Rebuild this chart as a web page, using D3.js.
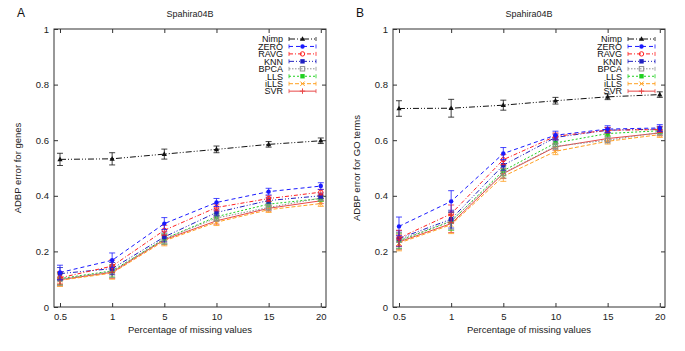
<!DOCTYPE html>
<html>
<head>
<meta charset="utf-8">
<script src="https://cdn.jsdelivr.net/npm/d3@7"></script>
<style>
  body { margin: 0; background: #fff; }
  svg { font-family: "Liberation Sans", Arial, sans-serif; }
  .tick text { font-size: 9.5px; fill: #222; }
</style>
</head>
<body>
<div class="container"></div>
<script>
// categories along x (percentage of missing values)
const categories = ['0.5', '1', '5', '10', '15', '20'];
const yTicks = [0, 0.2, 0.4, 0.6, 0.8, 1];
const methods = ['Nimp', 'ZERO', 'RAVG', 'KNN', 'BPCA', 'LLS', 'iLLS', 'SVR'];

// panel A: ADBP error for genes
const genesNimp = [0.531, 0.533, 0.550, 0.567, 0.585, 0.598];
const genesZERO = [0.124, 0.168, 0.300, 0.376, 0.415, 0.435];
const genesRAVG = [0.105, 0.147, 0.276, 0.358, 0.390, 0.413];
const genesKNN  = [0.120, 0.138, 0.252, 0.340, 0.383, 0.400];
const genesBPCA = [0.100, 0.128, 0.245, 0.320, 0.358, 0.392];
const genesLLS  = [0.102, 0.130, 0.245, 0.325, 0.370, 0.390];
const genesILLS = [0.096, 0.122, 0.238, 0.305, 0.350, 0.372];
const genesSVR  = [0.098, 0.125, 0.242, 0.310, 0.355, 0.382];
const genesErr  = [0.022, 0.022, 0.018, 0.012, 0.010, 0.010];

// panel B: ADBP error for GO terms
const goNimp = [0.714, 0.715, 0.726, 0.742, 0.756, 0.764];
const goZERO = [0.290, 0.380, 0.552, 0.618, 0.640, 0.644];
const goRAVG = [0.248, 0.335, 0.530, 0.614, 0.636, 0.638];
const goKNN  = [0.246, 0.316, 0.510, 0.610, 0.636, 0.640];
const goBPCA = [0.240, 0.310, 0.482, 0.578, 0.600, 0.628];
const goLLS  = [0.238, 0.308, 0.490, 0.590, 0.624, 0.634];
const goILLS = [0.230, 0.296, 0.470, 0.560, 0.596, 0.620];
const goSVR  = [0.234, 0.300, 0.480, 0.576, 0.606, 0.626];
const goErr  = [0.028, 0.032, 0.018, 0.012, 0.010, 0.010];

const styles = {
  Nimp: {color: '#111111', dash: '6,2,1,2,1,2', marker: 'triangle'},
  ZERO: {color: '#1a1aff', dash: '4,3', marker: 'circle'},
  RAVG: {color: '#ff2020', dash: '4,2,1,2', marker: 'ocircle'},
  KNN:  {color: '#2020c0', dash: '5,2,1,2,1,2', marker: 'square'},
  BPCA: {color: '#909090', dash: '1.5,1.5', marker: 'osquare'},
  LLS:  {color: '#20d020', dash: '2,2', marker: 'square'},
  iLLS: {color: '#ffa020', dash: '4,2', marker: 'cross'},
  SVR:  {color: '#e84848', dash: null, marker: 'plus'}
};

const panels = [
  {label: 'A', ylabel: 'ADBP error for genes', left: 54, err: genesErr,
   series: {Nimp: genesNimp, ZERO: genesZERO, RAVG: genesRAVG, KNN: genesKNN,
            BPCA: genesBPCA, LLS: genesLLS, iLLS: genesILLS, SVR: genesSVR}},
  {label: 'B', ylabel: 'ADBP error for GO terms', left: 393, err: goErr,
   series: {Nimp: goNimp, ZERO: goZERO, RAVG: goRAVG, KNN: goKNN,
            BPCA: goBPCA, LLS: goLLS, iLLS: goILLS, SVR: goSVR}}
];

const WIDTH = 685, HEIGHT = 351;
const PLOT_W = 272, TOP = 29, BOTTOM = 307;

let svg = d3.select('.container').append('svg')
  .attr('width', WIDTH).attr('height', HEIGHT);

let drawMarker = function (g, type, x, y, color) {
  let s = 2.2;
  if (type === 'triangle') {
    g.append('path').attr('d', `M${x},${y - s - 0.6}L${x + s + 0.4},${y + s - 0.4}L${x - s - 0.4},${y + s - 0.4}Z`).attr('fill', color);
  } else if (type === 'circle') {
    g.append('circle').attr('cx', x).attr('cy', y).attr('r', s).attr('fill', color);
  } else if (type === 'ocircle') {
    g.append('circle').attr('cx', x).attr('cy', y).attr('r', s).attr('fill', 'none').attr('stroke', color).attr('stroke-width', 1);
  } else if (type === 'square') {
    g.append('rect').attr('x', x - s).attr('y', y - s).attr('width', 2 * s).attr('height', 2 * s).attr('fill', color);
  } else if (type === 'osquare') {
    g.append('rect').attr('x', x - s).attr('y', y - s).attr('width', 2 * s).attr('height', 2 * s).attr('fill', 'none').attr('stroke', color).attr('stroke-width', 1);
  } else if (type === 'cross') {
    g.append('path').attr('d', `M${x - s},${y - s}L${x + s},${y + s}M${x - s},${y + s}L${x + s},${y - s}`).attr('stroke', color).attr('stroke-width', 1);
  } else if (type === 'plus') {
    g.append('path').attr('d', `M${x - s - 0.5},${y}L${x + s + 0.5},${y}M${x},${y - s - 0.5}L${x},${y + s + 0.5}`).attr('stroke', color).attr('stroke-width', 1);
  }
};

panels.forEach(function (p) {
  let xScale = d3.scaleLinear().domain([-0.115, 5.1]).range([p.left, p.left + PLOT_W]);
  let yScale = d3.scaleLinear().domain([0, 1]).range([BOTTOM, TOP]);
  let g = svg.append('g');

  // frame
  g.append('rect').attr('x', p.left).attr('y', TOP).attr('width', PLOT_W).attr('height', BOTTOM - TOP)
    .attr('fill', 'none').attr('stroke', '#333').attr('stroke-width', 1);

  // axes, ticks inward
  let idx = d3.range(categories.length);
  g.append('g').attr('transform', `translate(0,${BOTTOM})`)
    .call(d3.axisBottom(xScale).tickValues(idx).tickFormat(i => categories[i]).tickSize(-4).tickPadding(6))
    .call(a => a.select('.domain').remove());
  g.append('g').attr('transform', `translate(0,${TOP})`)
    .call(d3.axisTop(xScale).tickValues(idx).tickFormat('').tickSize(-4))
    .call(a => a.select('.domain').remove());
  g.append('g').attr('transform', `translate(${p.left},0)`)
    .call(d3.axisLeft(yScale).tickValues(yTicks).tickFormat(d3.format('')).tickSize(-4).tickPadding(5))
    .call(a => a.select('.domain').remove());
  g.append('g').attr('transform', `translate(${p.left + PLOT_W},0)`)
    .call(d3.axisRight(yScale).tickValues(yTicks).tickFormat('').tickSize(-4))
    .call(a => a.select('.domain').remove());
  g.selectAll('.tick line').attr('stroke', '#333');

  // labels
  svg.append('text').attr('x', p.left + PLOT_W / 2).attr('y', 17).attr('text-anchor', 'middle')
    .attr('font-size', 9).attr('fill', '#222').text('Spahira04B');
  svg.append('text').attr('x', p.left - 37).attr('y', 17).attr('font-size', 12).attr('fill', '#111').text(p.label);
  svg.append('text').attr('x', p.left + PLOT_W / 2).attr('y', 333).attr('text-anchor', 'middle')
    .attr('font-size', 9.5).attr('fill', '#222').text('Percentage of missing values');
  svg.append('text').attr('transform', `translate(${p.left - 33},${(TOP + BOTTOM) / 2}) rotate(-90)`)
    .attr('text-anchor', 'middle').attr('font-size', 9.5).attr('fill', '#222').text(p.ylabel);

  // series, drawn bottom-up so Nimp and ZERO sit on top
  methods.slice().reverse().forEach(function (m) {
    let st = styles[m];
    let vals = p.series[m];
    let sg = g.append('g');
    let line = d3.line().x((d, i) => xScale(i)).y(d => yScale(d));
    sg.append('path').attr('d', line(vals)).attr('fill', 'none')
      .attr('stroke', st.color).attr('stroke-width', 1)
      .attr('stroke-dasharray', st.dash);
    vals.forEach(function (v, i) {
      let e = p.err[i] * (m === 'ZERO' ? 1.2 : 1);
      let x = xScale(i), y0 = yScale(v - e), y1 = yScale(v + e);
      sg.append('path').attr('d', `M${x},${y0}L${x},${y1}M${x - 3},${y0}L${x + 3},${y0}M${x - 3},${y1}L${x + 3},${y1}`)
        .attr('stroke', st.color).attr('stroke-width', 0.8).attr('fill', 'none');
      drawMarker(sg, st.marker, x, yScale(v), st.color);
    });
  });

  // legend
  let lx = p.left + PLOT_W - 37;
  methods.forEach(function (m, k) {
    let st = styles[m];
    let y = 39 + k * 7.45;
    g.append('text').attr('x', lx - 6).attr('y', y + 3.3).attr('text-anchor', 'end')
      .attr('font-size', 9).attr('fill', '#111').text(m);
    g.append('path').attr('d', `M${lx},${y}L${lx + 27},${y}`).attr('stroke', st.color)
      .attr('stroke-width', 1).attr('stroke-dasharray', st.dash);
    g.append('path').attr('d', `M${lx},${y - 2}L${lx},${y + 2}M${lx + 27},${y - 2}L${lx + 27},${y + 2}`)
      .attr('stroke', st.color).attr('stroke-width', 0.8);
    drawMarker(g, st.marker, lx + 13.5, y, st.color);
  });
});
</script>
</body>
</html>
